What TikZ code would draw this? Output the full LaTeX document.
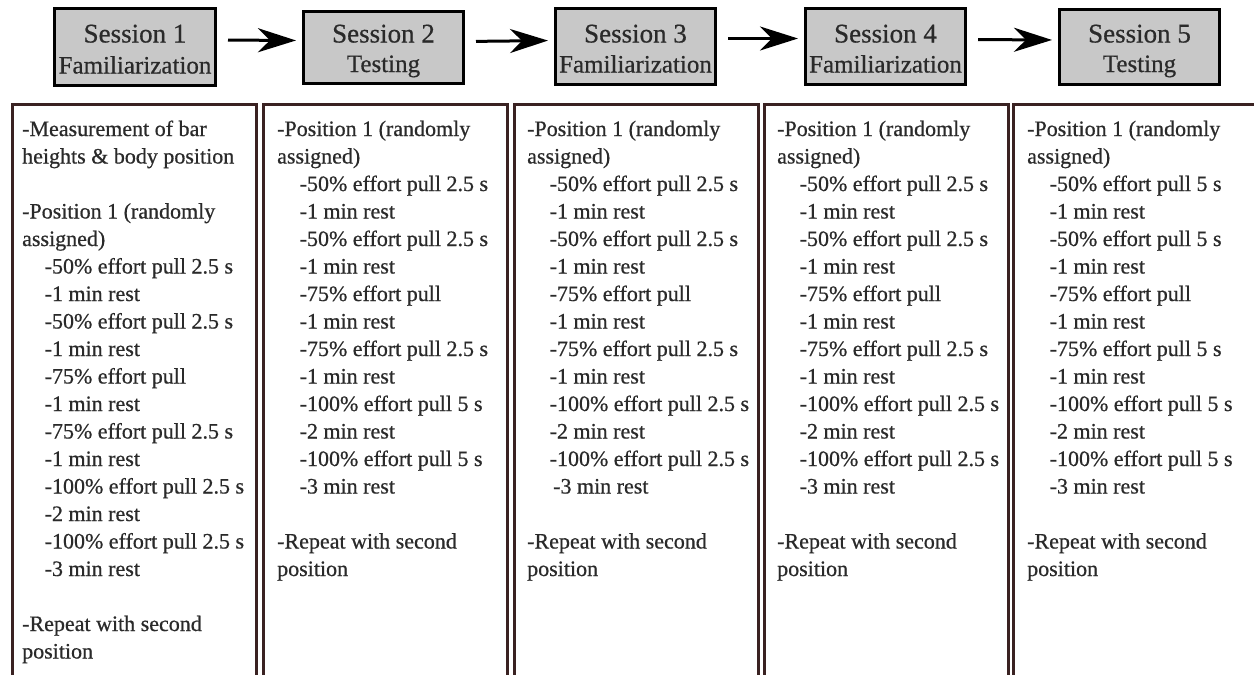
\documentclass[tikz,border=0pt]{standalone}
\usepackage{fontspec}
\setmainfont{Liberation Serif}[FakeBold=0.6]
\usetikzlibrary{arrows.meta}
\definecolor{hfill}{HTML}{C8C8C8}
\definecolor{txtc}{HTML}{2A2A2A}
\definecolor{colc}{HTML}{3A2222}
\newcommand{\ind}{\hspace*{22.5pt}}
\newcommand{\indb}{\hspace*{26pt}}
\begin{document}
\begin{tikzpicture}[x=1pt,y=-1pt,
  hbox/.style={draw=black, line width=3pt, fill=hfill, inner sep=0pt},
  htitle/.style={anchor=base, inner sep=0pt, text=txtc, font=\fontsize{27}{30}\selectfont},
  hsub/.style={anchor=base, inner sep=0pt, text=txtc, font=\fontsize{25}{28}\selectfont},
  colbox/.style={inner sep=0pt, minimum height=580pt},
  colline/.style={draw=colc, line width=3pt},
  bodytxt/.style={anchor=base west, inner sep=0pt, text=txtc, font=\fontsize{22}{27.5}\selectfont},
  arr/.style={draw=black, line width=3pt, -{Stealth[length=38pt,width=24pt,inset=12pt]}, shorten <=11pt, shorten >=6pt}
]
\useasboundingbox (0,0) rectangle (1254,675);
\fill[white] (0,0) rectangle (1254,675);

% header boxes
\node[hbox, minimum width=161pt, minimum height=77pt] (h1) at (135,47) {};
\node[hbox, minimum width=160pt, minimum height=72pt] (h2) at (383.5,47.5) {};
\node[hbox, minimum width=160pt, minimum height=76pt] (h3) at (635.5,46.5) {};
\node[hbox, minimum width=160pt, minimum height=76pt] (h4) at (885.5,46.5) {};
\node[hbox, minimum width=160pt, minimum height=75pt] (h5) at (1139.5,47) {};

\node[htitle] (h1a) at (135,42.5) {Session 1};
\node[hsub] (h1b) at (135,73.5) {Familiarization};
\node[htitle] (h2a) at (383.5,42.5) {Session 2};
\node[hsub] (h2b) at (383.5,72) {Testing};
\node[htitle] (h3a) at (635.5,42.5) {Session 3};
\node[hsub] (h3b) at (635.5,72.5) {Familiarization};
\node[htitle] (h4a) at (885.5,42.5) {Session 4};
\node[hsub] (h4b) at (885.5,72.5) {Familiarization};
\node[htitle] (h5a) at (1139.5,42.5) {Session 5};
\node[hsub] (h5b) at (1139.5,72) {Testing};

% arrows
\draw[arr] ([yshift=7pt]h1.east) -- ([yshift=7pt]h2.west);
\draw[arr] ([yshift=6pt]h2.east) -- ([yshift=6pt]h3.west);
\draw[arr] ([yshift=8pt]h3.east) -- ([yshift=8pt]h4.west);
\draw[arr] ([yshift=7pt]h4.east) -- ([yshift=7pt]h5.west);

% column boxes
\node[colbox, anchor=north west, minimum width=244pt] (c1) at (12.5,104.5) {};
\node[colbox, anchor=north west, minimum width=243.5pt] (c2) at (263.5,104.5) {};
\node[colbox, anchor=north west, minimum width=244pt] (c3) at (514,104.5) {};
\node[colbox, anchor=north west, minimum width=244pt] (c4) at (764,104.5) {};
\node[colbox, anchor=north west, minimum width=250pt] (c5) at (1013.5,104.5) {};
\foreach \c in {c1,c2,c3,c4,c5}{
  \draw[colline] (\c.south west) |- (\c.north east) -- (\c.south east);
}

% column texts
\node[bodytxt] (t1) at (22,136) {\begin{minipage}[t]{240pt}\raggedright
-Measurement of bar\\
heights \& body position\\[27.5pt]
-Position 1 (randomly\\
assigned)\\
\ind-50\% effort pull 2.5 s\\
\ind-1 min rest\\
\ind-50\% effort pull 2.5 s\\
\ind-1 min rest\\
\ind-75\% effort pull\\
\ind-1 min rest\\
\ind-75\% effort pull 2.5 s\\
\ind-1 min rest\\
\ind-100\% effort pull 2.5 s\\
\ind-2 min rest\\
\ind-100\% effort pull 2.5 s\\
\ind-3 min rest\\[27.5pt]
-Repeat with second\\
position
\end{minipage}};

\node[bodytxt] (t2) at (277,136) {\begin{minipage}[t]{240pt}\raggedright
-Position 1 (randomly\\
assigned)\\
\ind-50\% effort pull 2.5 s\\
\ind-1 min rest\\
\ind-50\% effort pull 2.5 s\\
\ind-1 min rest\\
\ind-75\% effort pull\\
\ind-1 min rest\\
\ind-75\% effort pull 2.5 s\\
\ind-1 min rest\\
\ind-100\% effort pull 5 s\\
\ind-2 min rest\\
\ind-100\% effort pull 5 s\\
\ind-3 min rest\\[27.5pt]
-Repeat with second\\
position
\end{minipage}};

\node[bodytxt] (t3) at (527,136) {\begin{minipage}[t]{240pt}\raggedright
-Position 1 (randomly\\
assigned)\\
\ind-50\% effort pull 2.5 s\\
\ind-1 min rest\\
\ind-50\% effort pull 2.5 s\\
\ind-1 min rest\\
\ind-75\% effort pull\\
\ind-1 min rest\\
\ind-75\% effort pull 2.5 s\\
\ind-1 min rest\\
\ind-100\% effort pull 2.5 s\\
\ind-2 min rest\\
\ind-100\% effort pull 2.5 s\\
\indb-3 min rest\\[27.5pt]
-Repeat with second\\
position
\end{minipage}};

\node[bodytxt] (t4) at (777,136) {\begin{minipage}[t]{240pt}\raggedright
-Position 1 (randomly\\
assigned)\\
\ind-50\% effort pull 2.5 s\\
\ind-1 min rest\\
\ind-50\% effort pull 2.5 s\\
\ind-1 min rest\\
\ind-75\% effort pull\\
\ind-1 min rest\\
\ind-75\% effort pull 2.5 s\\
\ind-1 min rest\\
\ind-100\% effort pull 2.5 s\\
\ind-2 min rest\\
\ind-100\% effort pull 2.5 s\\
\ind-3 min rest\\[27.5pt]
-Repeat with second\\
position
\end{minipage}};

\node[bodytxt] (t5) at (1027,136) {\begin{minipage}[t]{240pt}\raggedright
-Position 1 (randomly\\
assigned)\\
\ind-50\% effort pull 5 s\\
\ind-1 min rest\\
\ind-50\% effort pull 5 s\\
\ind-1 min rest\\
\ind-75\% effort pull\\
\ind-1 min rest\\
\ind-75\% effort pull 5 s\\
\ind-1 min rest\\
\ind-100\% effort pull 5 s\\
\ind-2 min rest\\
\ind-100\% effort pull 5 s\\
\ind-3 min rest\\[27.5pt]
-Repeat with second\\
position
\end{minipage}};
\end{tikzpicture}
\end{document}
